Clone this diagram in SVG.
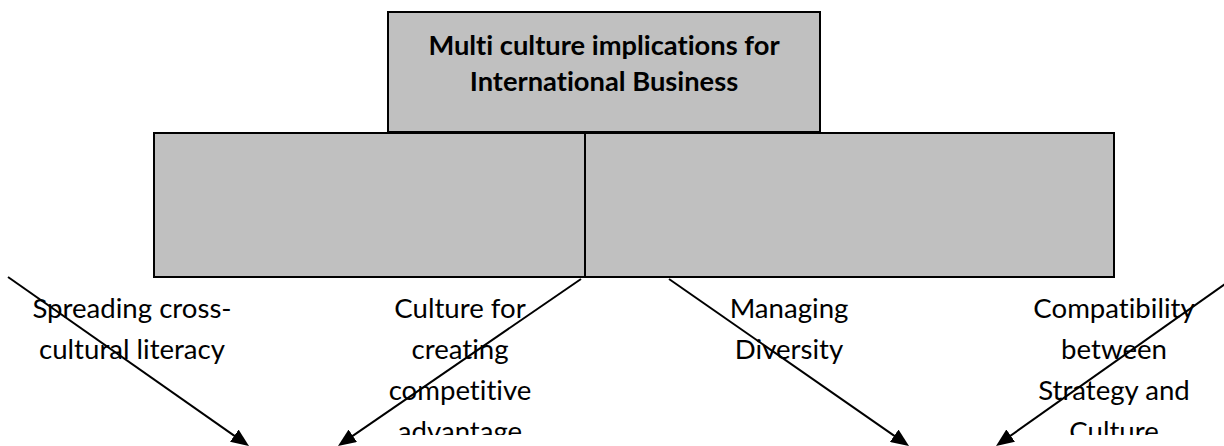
<svg xmlns="http://www.w3.org/2000/svg" width="1224" height="446" viewBox="0 0 1224 446">
  <style>
    .box { fill: #c0c0c0; stroke: #000; stroke-width: 2; }
    text { font-variant-ligatures: none; }
    .title { font-family: Lato, "Liberation Sans", sans-serif; font-size: 27.3px; font-weight: bold; fill: #000; text-anchor: middle; }
    .label { font-family: Lato, "Liberation Sans", sans-serif; font-size: 27.6px; fill: #000; text-anchor: middle; }
    .arrow { stroke: #000; stroke-width: 2; fill: none; marker-end: url(#head); }
  </style>
  <defs>
    <marker id="head" markerUnits="userSpaceOnUse" markerWidth="18" markerHeight="15" refX="12" refY="7.5" orient="auto">
      <path d="M0,0 L18,7.5 L0,15 z" fill="#000"/>
    </marker>
    <!-- text frames cut off the last line of each label -->
    <clipPath id="labelClip">
      <rect x="0" y="280" width="1224" height="155"/>
    </clipPath>
  </defs>

  <rect width="1224" height="446" fill="#fff"/>

  <g id="node-main">
    <rect class="box" x="388" y="12" width="432" height="120"/>
    <text class="title" x="604" y="55">Multi culture implications for</text>
    <text class="title" x="604" y="91">International Business</text>
  </g>

  <g id="node-left">
    <rect class="box" x="154" y="133" width="431" height="144"/>
  </g>

  <g id="node-right">
    <rect class="box" x="585" y="133" width="529" height="144"/>
  </g>

  <g id="labels" clip-path="url(#labelClip)">
    <g id="label-literacy">
      <text class="label" x="132" y="318">Spreading cross-</text>
      <text class="label" x="132" y="359">cultural literacy</text>
    </g>
    <g id="label-advantage">
      <text class="label" x="460" y="318">Culture for</text>
      <text class="label" x="460" y="359">creating</text>
      <text class="label" x="460" y="400">competitive</text>
      <text class="label" x="460" y="441">advantage</text>
    </g>
    <g id="label-diversity">
      <text class="label" x="789" y="318">Managing</text>
      <text class="label" x="789" y="359">Diversity</text>
    </g>
    <g id="label-compatibility">
      <text class="label" x="1114" y="318">Compatibility</text>
      <text class="label" x="1114" y="359">between</text>
      <text class="label" x="1114" y="400">Strategy and</text>
      <text class="label" x="1114" y="441">Culture</text>
    </g>
  </g>

  <g id="connectors">
    <path class="arrow" d="M8,277 L244.1,442.6"/>
    <path class="arrow" d="M581,279 L342.9,442.6"/>
    <path class="arrow" d="M669,279 L904.1,442.6"/>
    <path class="arrow" d="M1232,279 L1000.9,442.5"/>
  </g>
</svg>
